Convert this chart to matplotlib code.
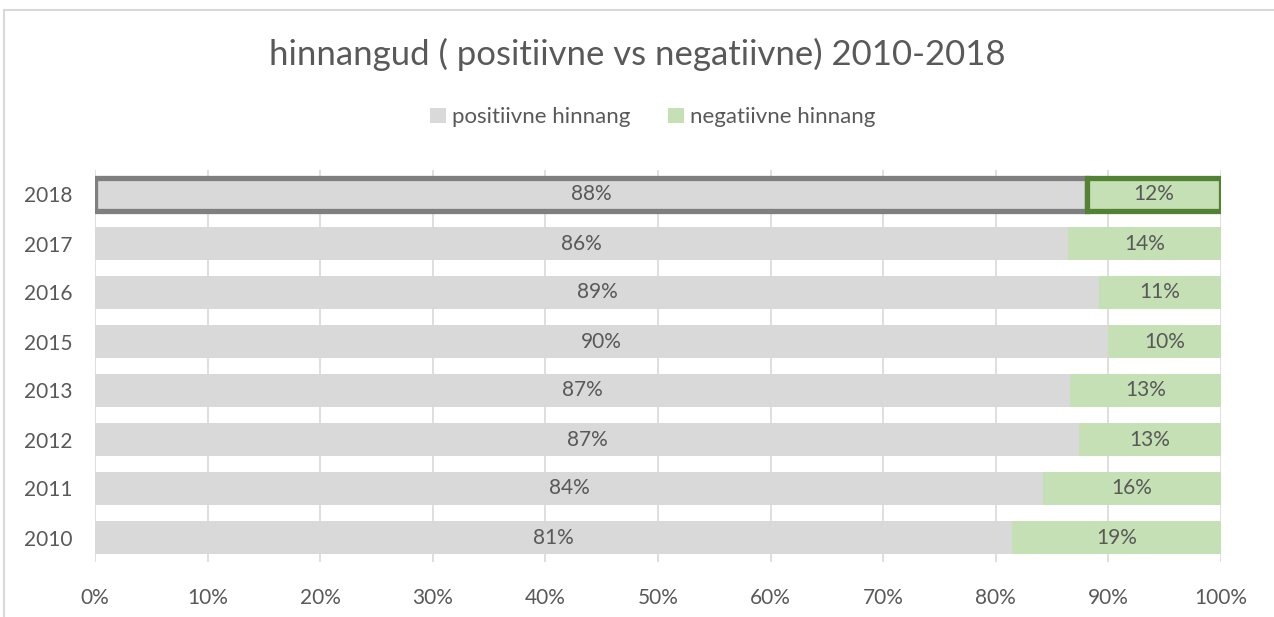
import matplotlib.pyplot as plt
from matplotlib.patches import Rectangle

years = ['2010', '2011', '2012', '2013', '2015', '2016', '2017', '2018']
positive = [81.4, 84.2, 87.4, 86.6, 90.0, 89.2, 86.4, 88.1]
negative = [18.6, 15.8, 12.6, 13.4, 10.0, 10.8, 13.6, 11.9]

pos_color = '#D9D9D9'
neg_color = '#C5E0B4'
txt = '#595959'

plt.rcParams['font.family'] = ['Lato', 'DejaVu Sans']

fig = plt.figure(figsize=(12.74, 6.17), dpi=100)
fig.patches.append(Rectangle((4 / 1274, -0.1), 1.2, 1.1 - 10 / 617,
                             transform=fig.transFigure, fill=False,
                             edgecolor='#D9D9D9', linewidth=1.5))

ax = fig.add_axes([95 / 1274, 1 - 562 / 617, 1126 / 1274, 392 / 617])

y = list(range(len(years)))
b1 = ax.barh(y, positive, height=0.67, color=pos_color, label='positiivne hinnang', zorder=2)
b2 = ax.barh(y, negative, left=positive, height=0.67, color=neg_color,
             label='negatiivne hinnang', zorder=2)

# highlight 2018
b1[-1].set_edgecolor('#7F7F7F')
b1[-1].set_linewidth(3.8)
b2[-1].set_edgecolor('#548235')
b2[-1].set_linewidth(3.8)
b2[-1].set_zorder(3)

for i in y:
    ax.text(positive[i] / 2, i, f"{positive[i]:.0f}%", ha='center', va='center',
            fontsize=15, color=txt, zorder=4)
    ax.text(positive[i] + negative[i] / 2, i, f"{negative[i]:.0f}%", ha='center',
            va='center', fontsize=15, color=txt, zorder=4)

ax.set_xlim(0, 100)
ax.set_ylim(-0.5, len(years) - 0.5)
ax.set_xticks(range(0, 101, 10))
ax.set_xticklabels([f"{v}%" for v in range(0, 101, 10)], fontsize=15, color=txt)
ax.set_yticks(y)
ax.set_yticklabels(years, fontsize=15, color=txt)
ax.tick_params(axis='x', length=0, pad=19)
ax.tick_params(axis='y', length=0, pad=16)
ax.grid(axis='x', color='#D9D9D9', linewidth=1.2, zorder=0)
for s in ax.spines.values():
    s.set_visible(False)

fig.text(0.5, 1 - 54 / 617, 'hinnangud ( positiivne vs negatiivne) 2010-2018',
         ha='center', va='center', fontsize=25, color=txt)
fig.legend(handles=[b1, b2], loc='center', bbox_to_anchor=(653 / 1274, 1 - 117 / 617),
           ncol=2, frameon=False, fontsize=16, labelcolor=txt,
           handlelength=0.68, handleheight=0.68, handletextpad=0.3, columnspacing=1.7)

fig.savefig('out.png', dpi=100)
